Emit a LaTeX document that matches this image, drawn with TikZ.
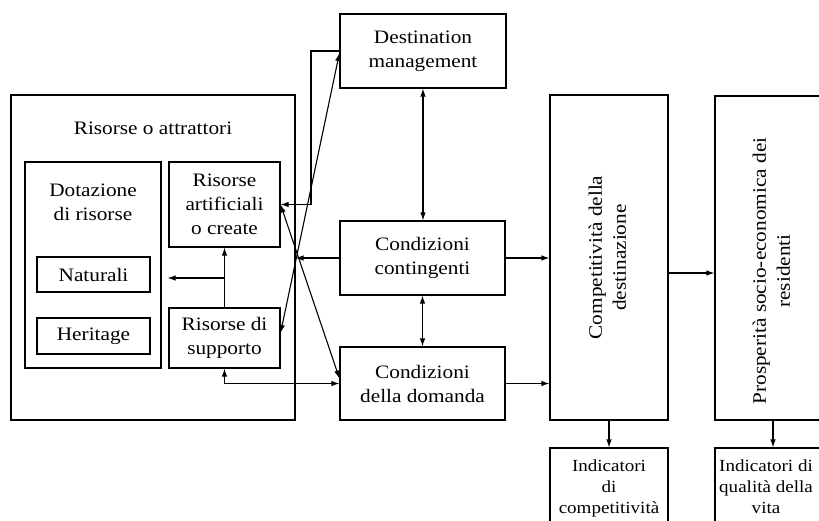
\documentclass[tikz,border=0pt]{standalone}
\usepackage{fontspec}
\setmainfont{Liberation Serif}[FakeStretch=1.12]
\usetikzlibrary{arrows.meta}

\begin{document}
\begin{tikzpicture}[x=1pt, y=-1pt, line width=1.1pt,
  >={Latex[length=8pt,width=5.5pt]},
  every node/.style={font=\fontsize{19}{24}\selectfont, align=center, inner sep=0pt},
  box/.style={draw},
  small/.style={font=\fontsize{17}{21}\selectfont}]
\useasboundingbox (0,0) rectangle (819,520);
\clip (0,0) rectangle (819,520);
\node[box, minimum width=284, minimum height=325] (risorse) at (153,257.5) {};
\node (titolo) at (153,128) {Risorse o attrattori};
\node[box, minimum width=136, minimum height=206] (dotazione) at (93,265) {};
\node (dotlab) at (93,202) {Dotazione\\di risorse};
\node[box, minimum width=113, minimum height=35] (naturali) at (93.5,274.5) {Naturali};
\node[box, minimum width=113, minimum height=36] (heritage) at (93.5,336) {Heritage};
\node[box, minimum width=111, minimum height=85] (artificiali) at (224.5,204.5) {Risorse\\artificiali\\o create};
\node[box, minimum width=111, minimum height=60] (supporto) at (224.5,338) {Risorse di\\supporto};
\node[box, minimum width=166, minimum height=74] (dm) at (423,51) {Destination\\management};
\node[box, minimum width=165, minimum height=74] (contingenti) at (422.5,258) {Condizioni\\contingenti};
\node[box, minimum width=165, minimum height=73] (domanda) at (422.5,383.5) {Condizioni\\della domanda};
\node[box, minimum width=118, minimum height=325] (competitivita) at (609,257.5)
  {\rotatebox{90}{\begin{tabular}{@{}c@{}}Competitività della\\destinazione\end{tabular}}};
\node[box, minimum width=116, minimum height=324] (prosperita) at (773,258)
  {\rotatebox{90}{\begin{tabular}{@{}c@{}}Prosperità socio-economica dei\\residenti\end{tabular}\hspace*{26pt}}};
\node[box, small, minimum width=118, minimum height=80] (indcomp) at (609,488) {Indicatori\\di\\competitività};
\node[box, minimum width=120, minimum height=80] (indvita) at (775,488) {};
\node[small] (indvitatxt) at (766,487) {Indicatori di\\qualità della\\vita};

\coordinate (bivio) at (224.5,278);
\coordinate (gomito) at (311,204.5);
\path (competitivita.east) ++(0,15.5) coordinate (uscita);

\draw[->] (supporto) -- (artificiali);
\draw[->, shorten >=6pt] (bivio) -- (bivio -| dotazione.east);
\draw[->] (contingenti) -- (contingenti -| risorse.east);
\draw[->] (dm.west) -| (gomito) -- (artificiali.east);
\draw[<->] ([yshift=5pt]supporto.east) -- ([yshift=-2pt]dm.west);
\draw[<->] (artificiali.east) -- ([yshift=5pt]domanda.west);
\draw[<->] (supporto) |- (domanda);
\draw[<->] (dm) -- (dm |- contingenti.north);
\draw[<->] (contingenti) -- (domanda);
\draw[->] (contingenti) -- (contingenti -| competitivita.west);
\draw[->] (domanda) -- (domanda -| competitivita.west);
\draw[->] (uscita) -- (uscita -| prosperita.west);
\draw[->] (competitivita) -- (indcomp);
\draw[->] (prosperita) -- (prosperita |- indvita.north);
\end{tikzpicture}
\end{document}
